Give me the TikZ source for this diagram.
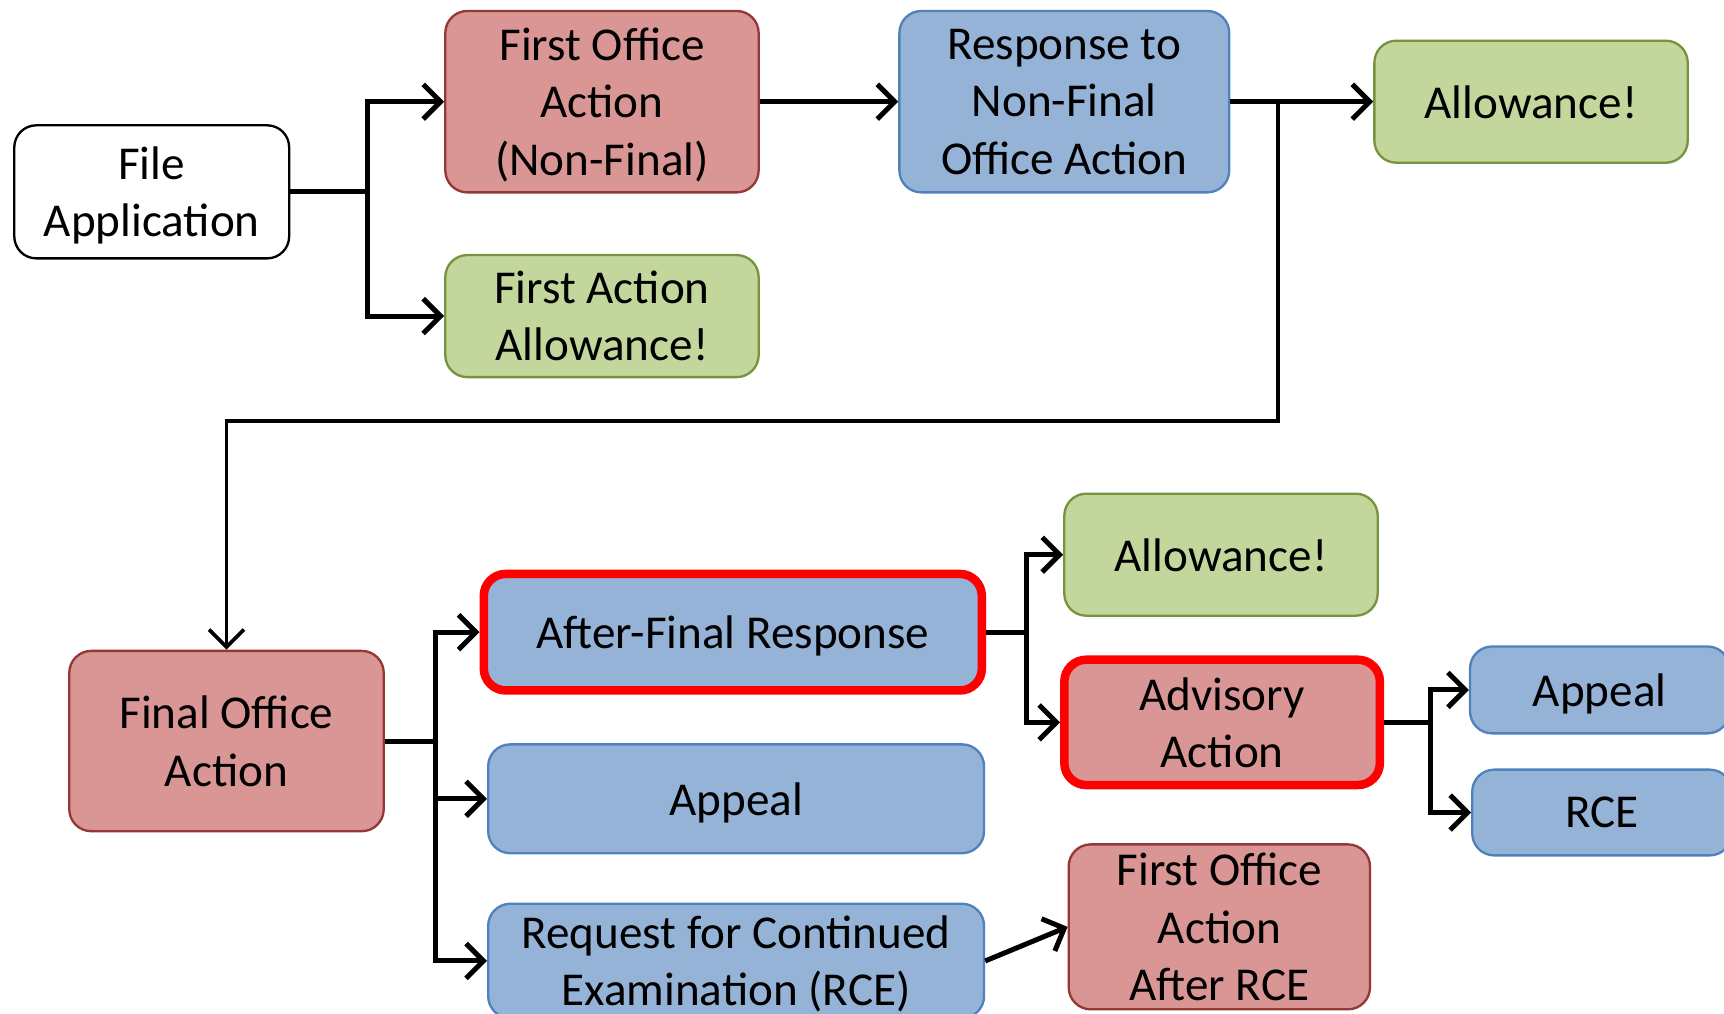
\documentclass[tikz,border=0pt]{standalone}
\usepackage{fontspec}
\setmainfont{Carlito}
\usetikzlibrary{arrows.meta}

\definecolor{redfill}{HTML}{D99694}
\definecolor{reddraw}{HTML}{953735}
\definecolor{bluefill}{HTML}{95B3D7}
\definecolor{bluedraw}{HTML}{4F81BD}
\definecolor{greenfill}{HTML}{C3D69B}
\definecolor{greendraw}{HTML}{77933C}

\begin{document}
\begin{tikzpicture}[> = {Straight Barb[length=4.5pt, width=9pt]},
	box/.style		= {rounded corners=0.2cm, align=center, inner sep=0pt, line width=0.6pt,
					   text depth=0pt, font=\fontsize{12.2}{14.8}\selectfont},
	whitebox/.style	= {box, fill=white, draw=black},
	redbox/.style	= {box, fill=redfill, draw=reddraw},
	bluebox/.style	= {box, fill=bluefill, draw=bluedraw},
	greenbox/.style	= {box, fill=greenfill, draw=greendraw},
	hot/.style		= {draw=red, line width=2.2pt},
	flow/.style		= {->, line width=1.3pt},
	back/.style		= {->, line width=1pt}]

\useasboundingbox (0,0) rectangle (15.68,-9.22);

% top row
\node[whitebox, minimum width=2.50cm, minimum height=1.21cm]	(fileapp)	at (1.38,-1.745)	{File\\Application};
\node[redbox, minimum width=2.85cm, minimum height=1.65cm]	(foa)		at (5.475,-0.925)	{First Office\\Action\\(Non-Final)};
\node[greenbox, minimum width=2.85cm, minimum height=1.11cm]	(faa)		at (5.475,-2.875)	{First Action\\Allowance!};
\node[bluebox, minimum width=3.00cm, minimum height=1.65cm]	(resp)		at (9.68,-0.925)	{Response to\\Non-Final\\Office Action};
\node[greenbox, minimum width=2.85cm, minimum height=1.11cm]	(allow)		at (13.925,-0.925)	{Allowance!};

% bottom part
\node[redbox, minimum width=2.86cm, minimum height=1.64cm]	(final)		at (2.06,-6.74)		{Final Office\\Action};
\node[bluebox, hot, minimum width=4.53cm, minimum height=1.06cm]	(afr)		at (6.665,-5.75)	{After-Final Response};
\node[bluebox, minimum width=4.51cm, minimum height=0.99cm]	(appeal)	at (6.695,-7.265)	{Appeal};
\node[bluebox, minimum width=4.51cm, minimum height=1.04cm]	(rce)		at (6.695,-8.74)	{Request for Continued\\Examination (RCE)};
\node[greenbox, minimum width=2.85cm, minimum height=1.11cm]	(allowb)	at (11.105,-5.045)	{Allowance!};
\node[redbox, hot, minimum width=2.87cm, minimum height=1.14cm]	(adv)		at (11.115,-6.57)	{Advisory\\Action};
\node[bluebox, minimum width=2.36cm, minimum height=0.79cm]	(appealb)	at (14.55,-6.275)	{Appeal};
\node[bluebox, minimum width=2.36cm, minimum height=0.78cm]	(rceb)		at (14.57,-7.39)	{RCE};
\node[redbox, minimum width=2.74cm, minimum height=1.50cm]	(foarce)	at (11.09,-8.43)	{First Office\\Action\\After RCE};

% connectors
\draw[line width=1.3pt]	(fileapp.east) -- ++(0.70,0) coordinate (j1);
\draw[flow]	(j1) |- (foa.west);
\draw[flow]	(j1) |- (faa.west);
\draw[flow]	(foa.east) -- (resp.east -| resp.west);
\draw[flow]	(resp.east) -- (allow.west);
\coordinate (turn) at (11.62,-3.83);
\draw[back]	(resp.east -| turn) -- (turn) -| (final.north);

\draw[line width=1.3pt]	(final.east) -- ++(0.46,0) coordinate (j2);
\draw[flow]	(j2) |- (afr.west);
\draw[flow]	(j2) |- (appeal.west);
\draw[flow]	(j2) |- (rce.west);

\draw[line width=1.3pt]	(afr.east) -- ++(0.37,0) coordinate (j3);
\draw[flow]	(j3) |- (allowb.west);
\draw[flow]	(j3) |- (adv.west);

\draw[line width=1.3pt]	(adv.east) -- ++(0.42,0) coordinate (j4);
\draw[flow]	(j4) |- (appealb.west);
\draw[flow]	(j4) |- (rceb.west);

\draw[flow]	(rce.east) -- (foarce.west);
\end{tikzpicture}
\end{document}
